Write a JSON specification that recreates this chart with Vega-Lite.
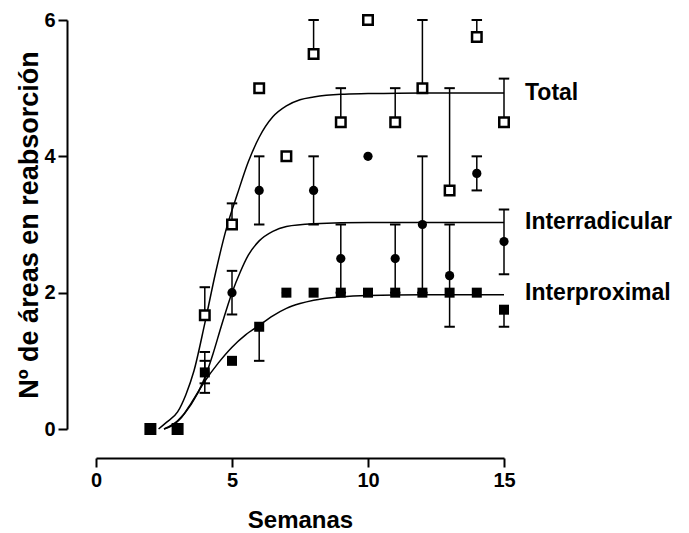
{
  "$schema": "https://vega.github.io/schema/vega-lite/v6.json",
  "width": 408,
  "height": 409,
  "autosize": {"type": "none"},
  "padding": {"left": 96, "top": 20, "right": 185, "bottom": 104},
  "background": "white",
  "config": {
    "view": {"stroke": null},
    "font": "Liberation Sans",
    "axis": {
      "grid": false,
      "domainColor": "black",
      "domainWidth": 2,
      "tickColor": "black",
      "tickWidth": 2,
      "tickSize": 9,
      "labelColor": "black",
      "labelFont": "Liberation Sans",
      "labelFontSize": 20,
      "labelFontWeight": "bold",
      "labelPadding": 3,
      "labelFlush": false,
      "titleColor": "black",
      "titleFont": "Liberation Sans",
      "titleFontWeight": "bold",
      "offset": 29
    },
    "axisX": {"titleFontSize": 24, "titlePadding": 18, "labelFlush": false},
    "axisY": {"titleFontSize": 27, "titlePadding": 0}
  },
  "datasets": {
    "obs": [
      {"series": "Total", "week": 2, "y": 0, "lo": 0, "hi": 0},
      {"series": "Total", "week": 3, "y": 0, "lo": 0, "hi": 0},
      {"series": "Total", "week": 4, "y": 1.67, "lo": 1.67, "hi": 2.08},
      {"series": "Total", "week": 5, "y": 3.0, "lo": 3.0, "hi": 3.31},
      {"series": "Total", "week": 6, "y": 5.0, "lo": 5.0, "hi": 5.0},
      {"series": "Total", "week": 7, "y": 4.0, "lo": 4.0, "hi": 4.0},
      {"series": "Total", "week": 8, "y": 5.5, "lo": 5.5, "hi": 6.0},
      {"series": "Total", "week": 9, "y": 4.5, "lo": 4.5, "hi": 5.0},
      {"series": "Total", "week": 10, "y": 6.0, "lo": 6.0, "hi": 6.0},
      {"series": "Total", "week": 11, "y": 4.5, "lo": 4.5, "hi": 5.0},
      {"series": "Total", "week": 12, "y": 5.0, "lo": 5.0, "hi": 6.0},
      {"series": "Total", "week": 13, "y": 3.5, "lo": 3.5, "hi": 5.0},
      {"series": "Total", "week": 14, "y": 5.75, "lo": 5.75, "hi": 6.0},
      {"series": "Total", "week": 15, "y": 4.5, "lo": 4.5, "hi": 5.14},
      {"series": "Interradicular", "week": 2, "y": 0, "lo": 0, "hi": 0},
      {"series": "Interradicular", "week": 3, "y": 0, "lo": 0, "hi": 0},
      {"series": "Interradicular", "week": 4, "y": 0.83, "lo": 0.67, "hi": 1.0},
      {"series": "Interradicular", "week": 5, "y": 2.0, "lo": 1.68, "hi": 2.32},
      {"series": "Interradicular", "week": 6, "y": 3.5, "lo": 3.0, "hi": 4.0},
      {"series": "Interradicular", "week": 7, "y": 2.0, "lo": 2.0, "hi": 2.0},
      {"series": "Interradicular", "week": 8, "y": 3.5, "lo": 3.0, "hi": 4.0},
      {"series": "Interradicular", "week": 9, "y": 2.5, "lo": 2.0, "hi": 3.0},
      {"series": "Interradicular", "week": 10, "y": 4.0, "lo": 4.0, "hi": 4.0},
      {"series": "Interradicular", "week": 11, "y": 2.5, "lo": 2.0, "hi": 3.0},
      {"series": "Interradicular", "week": 12, "y": 3.0, "lo": 2.0, "hi": 4.0},
      {"series": "Interradicular", "week": 13, "y": 2.25, "lo": 1.5, "hi": 3.0},
      {"series": "Interradicular", "week": 14, "y": 3.75, "lo": 3.5, "hi": 4.0},
      {"series": "Interradicular", "week": 15, "y": 2.75, "lo": 2.27, "hi": 3.22},
      {"series": "Interproximal", "week": 2, "y": 0, "lo": 0, "hi": 0},
      {"series": "Interproximal", "week": 3, "y": 0, "lo": 0, "hi": 0},
      {"series": "Interproximal", "week": 4, "y": 0.83, "lo": 0.53, "hi": 1.13},
      {"series": "Interproximal", "week": 5, "y": 1.0, "lo": 1.0, "hi": 1.0},
      {"series": "Interproximal", "week": 6, "y": 1.5, "lo": 1.0, "hi": 1.5},
      {"series": "Interproximal", "week": 7, "y": 2.0, "lo": 2.0, "hi": 2.0},
      {"series": "Interproximal", "week": 8, "y": 2.0, "lo": 2.0, "hi": 2.0},
      {"series": "Interproximal", "week": 9, "y": 2.0, "lo": 2.0, "hi": 2.0},
      {"series": "Interproximal", "week": 10, "y": 2.0, "lo": 2.0, "hi": 2.0},
      {"series": "Interproximal", "week": 11, "y": 2.0, "lo": 2.0, "hi": 2.0},
      {"series": "Interproximal", "week": 12, "y": 2.0, "lo": 2.0, "hi": 2.0},
      {"series": "Interproximal", "week": 13, "y": 2.0, "lo": 2.0, "hi": 2.0},
      {"series": "Interproximal", "week": 14, "y": 2.0, "lo": 2.0, "hi": 2.0},
      {"series": "Interproximal", "week": 15, "y": 1.75, "lo": 1.5, "hi": 1.75}
    ],
    "fits": [
      {"series": "Total", "week": 2.3, "fit": 0.0},
      {"series": "Total", "week": 2.6, "fit": 0.1},
      {"series": "Total", "week": 3.0, "fit": 0.25},
      {"series": "Total", "week": 3.3, "fit": 0.5},
      {"series": "Total", "week": 3.6, "fit": 0.85},
      {"series": "Total", "week": 4.0, "fit": 1.55},
      {"series": "Total", "week": 4.4, "fit": 2.3},
      {"series": "Total", "week": 4.8, "fit": 2.95},
      {"series": "Total", "week": 5.2, "fit": 3.45},
      {"series": "Total", "week": 5.6, "fit": 3.92},
      {"series": "Total", "week": 6.0, "fit": 4.28},
      {"series": "Total", "week": 6.5, "fit": 4.58},
      {"series": "Total", "week": 7.0, "fit": 4.74},
      {"series": "Total", "week": 7.5, "fit": 4.83},
      {"series": "Total", "week": 8.0, "fit": 4.87},
      {"series": "Total", "week": 9.0, "fit": 4.91},
      {"series": "Total", "week": 10.0, "fit": 4.92},
      {"series": "Total", "week": 12.0, "fit": 4.93},
      {"series": "Total", "week": 15.0, "fit": 4.93},
      {"series": "Interradicular", "week": 2.5, "fit": 0.0},
      {"series": "Interradicular", "week": 3.0, "fit": 0.12},
      {"series": "Interradicular", "week": 3.5, "fit": 0.36},
      {"series": "Interradicular", "week": 4.0, "fit": 0.75},
      {"series": "Interradicular", "week": 4.3, "fit": 1.1},
      {"series": "Interradicular", "week": 4.6, "fit": 1.5},
      {"series": "Interradicular", "week": 5.0, "fit": 2.0},
      {"series": "Interradicular", "week": 5.3, "fit": 2.3},
      {"series": "Interradicular", "week": 5.6, "fit": 2.55},
      {"series": "Interradicular", "week": 6.0, "fit": 2.76},
      {"series": "Interradicular", "week": 6.5, "fit": 2.9},
      {"series": "Interradicular", "week": 7.0, "fit": 2.97},
      {"series": "Interradicular", "week": 8.0, "fit": 3.01},
      {"series": "Interradicular", "week": 10.0, "fit": 3.03},
      {"series": "Interradicular", "week": 15.0, "fit": 3.03},
      {"series": "Interproximal", "week": 2.5, "fit": 0.0},
      {"series": "Interproximal", "week": 2.8, "fit": 0.05},
      {"series": "Interproximal", "week": 3.1, "fit": 0.15},
      {"series": "Interproximal", "week": 3.5, "fit": 0.38},
      {"series": "Interproximal", "week": 4.0, "fit": 0.7},
      {"series": "Interproximal", "week": 4.5, "fit": 0.97},
      {"series": "Interproximal", "week": 5.0, "fit": 1.2},
      {"series": "Interproximal", "week": 5.5, "fit": 1.38},
      {"series": "Interproximal", "week": 6.0, "fit": 1.52},
      {"series": "Interproximal", "week": 6.5, "fit": 1.66},
      {"series": "Interproximal", "week": 7.0, "fit": 1.77},
      {"series": "Interproximal", "week": 7.5, "fit": 1.84},
      {"series": "Interproximal", "week": 8.0, "fit": 1.89},
      {"series": "Interproximal", "week": 9.0, "fit": 1.94},
      {"series": "Interproximal", "week": 10.0, "fit": 1.96},
      {"series": "Interproximal", "week": 12.0, "fit": 1.97},
      {"series": "Interproximal", "week": 15.0, "fit": 1.97}
    ],
    "labels": [
      {"label": "Total", "week": 15, "y": 4.93},
      {"label": "Interradicular", "week": 15, "y": 3.03},
      {"label": "Interproximal", "week": 15, "y": 2.0}
    ]
  },
  "layer": [
    {
      "data": {"name": "fits"},
      "mark": {"type": "line", "color": "black", "strokeWidth": 1.5, "interpolate": "monotone"},
      "encoding": {
        "x": {"field": "week", "type": "quantitative", "scale": {"domain": [0, 15], "nice": false, "zero": false},
              "axis": {"values": [0, 5, 10, 15], "title": "Semanas", "labelFlush": false}},
        "y": {"field": "fit", "type": "quantitative", "scale": {"domain": [0, 6], "nice": false},
              "axis": {"values": [0, 2, 4, 6], "title": "Nº de áreas en reabsorción"}},
        "detail": {"field": "series"}
      }
    },
    {
      "data": {"name": "obs"},
      "transform": [{"filter": "datum.hi > datum.lo"}],
      "mark": {"type": "rule", "color": "black", "strokeWidth": 1.5},
      "encoding": {
        "x": {"field": "week", "type": "quantitative", "axis": {"values": [0, 5, 10, 15], "title": "Semanas", "labelFlush": false}},
        "y": {"field": "lo", "type": "quantitative", "axis": {"values": [0, 2, 4, 6], "title": "Nº de áreas en reabsorción"}},
        "y2": {"field": "hi"}
      }
    },
    {
      "data": {"name": "obs"},
      "transform": [{"filter": "datum.hi > datum.y"}],
      "mark": {"type": "point", "shape": "M-1,0H1", "size": 110, "filled": false, "stroke": "black", "strokeWidth": 2, "opacity": 1},
      "encoding": {
        "x": {"field": "week", "type": "quantitative", "axis": {"values": [0, 5, 10, 15], "title": "Semanas", "labelFlush": false}},
        "y": {"field": "hi", "type": "quantitative", "axis": {"values": [0, 2, 4, 6], "title": "Nº de áreas en reabsorción"}}
      }
    },
    {
      "data": {"name": "obs"},
      "transform": [{"filter": "datum.lo < datum.y"}],
      "mark": {"type": "point", "shape": "M-1,0H1", "size": 110, "filled": false, "stroke": "black", "strokeWidth": 2, "opacity": 1},
      "encoding": {
        "x": {"field": "week", "type": "quantitative", "axis": {"values": [0, 5, 10, 15], "title": "Semanas", "labelFlush": false}},
        "y": {"field": "lo", "type": "quantitative", "axis": {"values": [0, 2, 4, 6], "title": "Nº de áreas en reabsorción"}}
      }
    },
    {
      "data": {"name": "obs"},
      "transform": [{"filter": "datum.series == 'Total'"}],
      "mark": {"type": "point", "shape": "square", "size": 90, "filled": false, "fill": "white", "stroke": "black", "strokeWidth": 2.5, "opacity": 1, "fillOpacity": 1},
      "encoding": {
        "x": {"field": "week", "type": "quantitative", "axis": {"values": [0, 5, 10, 15], "title": "Semanas", "labelFlush": false}},
        "y": {"field": "y", "type": "quantitative", "axis": {"values": [0, 2, 4, 6], "title": "Nº de áreas en reabsorción"}}
      }
    },
    {
      "data": {"name": "obs"},
      "transform": [{"filter": "datum.series == 'Interradicular'"}],
      "mark": {"type": "point", "shape": "circle", "size": 85, "filled": true, "color": "black", "opacity": 1},
      "encoding": {
        "x": {"field": "week", "type": "quantitative", "axis": {"values": [0, 5, 10, 15], "title": "Semanas", "labelFlush": false}},
        "y": {"field": "y", "type": "quantitative", "axis": {"values": [0, 2, 4, 6], "title": "Nº de áreas en reabsorción"}}
      }
    },
    {
      "data": {"name": "obs"},
      "transform": [{"filter": "datum.series == 'Interproximal'"}],
      "mark": {"type": "point", "shape": "square", "size": 100, "filled": true, "color": "black", "opacity": 1},
      "encoding": {
        "x": {"field": "week", "type": "quantitative", "axis": {"values": [0, 5, 10, 15], "title": "Semanas", "labelFlush": false}},
        "y": {"field": "y", "type": "quantitative", "axis": {"values": [0, 2, 4, 6], "title": "Nº de áreas en reabsorción"}}
      }
    },
    {
      "data": {"name": "labels"},
      "mark": {"type": "text", "align": "left", "baseline": "middle", "dx": 21, "fontSize": 23, "fontWeight": "bold", "font": "Liberation Sans", "color": "black"},
      "encoding": {
        "x": {"field": "week", "type": "quantitative", "axis": {"values": [0, 5, 10, 15], "title": "Semanas", "labelFlush": false}},
        "y": {"field": "y", "type": "quantitative", "axis": {"values": [0, 2, 4, 6], "title": "Nº de áreas en reabsorción"}},
        "text": {"field": "label"}
      }
    }
  ]
}
